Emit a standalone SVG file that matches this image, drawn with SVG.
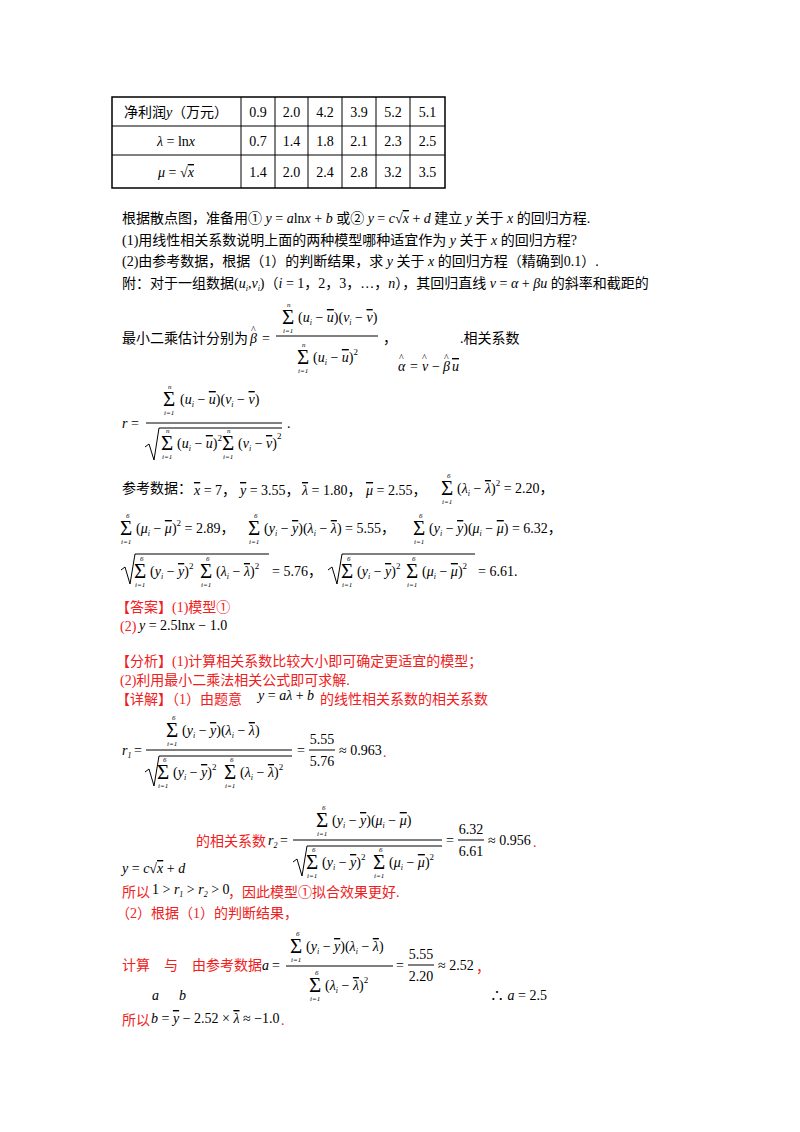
<svg xmlns="http://www.w3.org/2000/svg" width="800" height="1132" viewBox="0 0 800 1132">
<style>
text{font-family:"Liberation Serif","Noto Sans CJK SC",serif;font-size:14px;fill:#000}
.r{fill:#f02020}
.i{font-style:italic}
.S{font-size:21px}
.l{font-size:7px;font-style:italic}
.sub{font-size:8px;font-style:italic}
.ol{text-decoration:overline}
.c{text-anchor:middle}
.h{font-size:10px}
line,path{stroke:#000;stroke-width:1;fill:none}
</style>
<rect width="800" height="1132" fill="#fff"/>
<g id="table">
<rect x="112" y="97" width="333" height="91" fill="none" stroke="#000" stroke-width="1.5"/>
<path d="M241,97V188M275,97V188M308,97V188M342,97V188M376,97V188M410,97V188M112,126H445M112,155H445"/>
<text x="176" y="117" class="c">净利润<tspan class="i">y</tspan>（万元）</text>
<text x="176" y="146" class="c"><tspan class="i">λ</tspan> = ln<tspan class="i">x</tspan></text>
<text x="176" y="177" class="c"><tspan class="i">μ</tspan> = √<tspan class="i ol">x</tspan></text>
<text x="258" y="117" class="c">0.9</text><text x="291.5" y="117" class="c">2.0</text><text x="325" y="117" class="c">4.2</text><text x="359" y="117" class="c">3.9</text><text x="393" y="117" class="c">5.2</text><text x="427.5" y="117" class="c">5.1</text>
<text x="258" y="146" class="c">0.7</text><text x="291.5" y="146" class="c">1.4</text><text x="325" y="146" class="c">1.8</text><text x="359" y="146" class="c">2.1</text><text x="393" y="146" class="c">2.3</text><text x="427.5" y="146" class="c">2.5</text>
<text x="258" y="177" class="c">1.4</text><text x="291.5" y="177" class="c">2.0</text><text x="325" y="177" class="c">2.4</text><text x="359" y="177" class="c">2.8</text><text x="393" y="177" class="c">3.2</text><text x="427.5" y="177" class="c">3.5</text>
</g>
<g id="question">
<text x="122" y="223">根据散点图，准备用① <tspan class="i">y</tspan> = <tspan class="i">a</tspan>ln<tspan class="i">x</tspan> + <tspan class="i">b</tspan> 或② <tspan class="i">y</tspan> = <tspan class="i">c</tspan>√<tspan class="i ol">x</tspan> + <tspan class="i">d</tspan> 建立 <tspan class="i">y</tspan> 关于 <tspan class="i">x</tspan> 的回归方程.</text>
<text x="122" y="245">(1)用线性相关系数说明上面的两种模型哪种适宜作为 <tspan class="i">y</tspan> 关于 <tspan class="i">x</tspan> 的回归方程?</text>
<text x="122" y="266">(2)由参考数据，根据（1）的判断结果，求 <tspan class="i">y</tspan> 关于 <tspan class="i">x</tspan> 的回归方程（精确到0.1）.</text>
<text x="122" y="288">附：对于一组数据(<tspan class="i">u</tspan><tspan class="sub" dy="3">i</tspan><tspan dy="-3">,</tspan><tspan class="i">v</tspan><tspan class="sub" dy="3">i</tspan><tspan dy="-3">)（</tspan><tspan class="i">i</tspan> = 1，2，3，…，<tspan class="i">n</tspan>），其回归直线 <tspan class="i">v</tspan> = <tspan class="i">α</tspan> + <tspan class="i">βu</tspan> 的斜率和截距的</text>
<text x="122" y="343">最小二乘估计分别为</text>
<text x="250" y="343" class="i">β</text><text x="251" y="333" class="h">^</text><text x="262" y="343">=</text>
<line x1="276" y1="336" x2="378" y2="336"/>
<text x="282" y="324" class="S">Σ</text><text x="287" y="307" class="l">n</text><text x="283" y="333" class="l">i=1</text>
<text x="298" y="322">(<tspan class="i">u</tspan><tspan class="sub" dy="3">i</tspan><tspan dy="-3"> − </tspan><tspan class="i ol">u</tspan>)(<tspan class="i">v</tspan><tspan class="sub" dy="3">i</tspan><tspan dy="-3"> − </tspan><tspan class="i ol">v</tspan>)</text>
<text x="297" y="364" class="S">Σ</text><text x="302" y="347" class="l">n</text><text x="298" y="373" class="l">i=1</text>
<text x="313" y="362">(<tspan class="i">u</tspan><tspan class="sub" dy="3">i</tspan><tspan dy="-3"> − </tspan><tspan class="i ol">u</tspan>)<tspan font-size="9" dy="-7">2</tspan></text>
<text x="383" y="343">，</text>
<text x="398" y="371" class="i">α</text><text x="399" y="361" class="h">^</text>
<text x="410" y="371">=</text>
<text x="422" y="371" class="i">v</text><text x="422" y="361" class="h">^</text>
<text x="432" y="371">−</text>
<text x="443" y="371" class="i">β</text><text x="444" y="361" class="h">^</text>
<text x="452" y="371" class="i ol">u</text>
<text x="460" y="343">.相关系数</text>
<text x="122" y="428" class="i">r</text><text x="131" y="428">=</text>
<line x1="146" y1="423" x2="282" y2="423"/>
<text x="163" y="406" class="S">Σ</text><text x="168" y="389" class="l">n</text><text x="164" y="415" class="l">i=1</text>
<text x="180" y="404">(<tspan class="i">u</tspan><tspan class="sub" dy="3">i</tspan><tspan dy="-3"> − </tspan><tspan class="i ol">u</tspan>)(<tspan class="i">v</tspan><tspan class="sub" dy="3">i</tspan><tspan dy="-3"> − </tspan><tspan class="i ol">v</tspan>)</text>
<path d="M145,447 L149,444 L154,460 L159,428 H282"/>
<text x="161" y="450" class="S">Σ</text><text x="166" y="433" class="l">n</text><text x="162" y="459" class="l">i=1</text>
<text x="177" y="448">(<tspan class="i">u</tspan><tspan class="sub" dy="3">i</tspan><tspan dy="-3"> − </tspan><tspan class="i ol">u</tspan>)<tspan font-size="9" dy="-7">2</tspan></text>
<text x="222" y="450" class="S">Σ</text><text x="227" y="433" class="l">n</text><text x="223" y="459" class="l">i=1</text>
<text x="238" y="448">(<tspan class="i">v</tspan><tspan class="sub" dy="3">i</tspan><tspan dy="-3"> − </tspan><tspan class="i ol">v</tspan>)<tspan font-size="9" dy="-9">2</tspan></text>
<text x="287" y="428">.</text>
</g>
<g id="reference">
<text x="122" y="493">参考数据：</text>
<text x="194" y="495"><tspan class="i ol">x</tspan> = 7，</text>
<text x="240" y="495"><tspan class="i ol">y</tspan> = 3.55，</text>
<text x="302" y="495"><tspan class="i ol">λ</tspan> = 1.80，</text>
<text x="366" y="495"><tspan class="i ol">μ</tspan> = 2.55，</text>
<text x="441" y="495" class="S">Σ</text><text x="447" y="478" class="l">6</text><text x="442" y="504" class="l">i=1</text>
<text x="457" y="493">(<tspan class="i">λ</tspan><tspan class="sub" dy="3">i</tspan><tspan dy="-3"> − </tspan><tspan class="i ol">λ</tspan>)<tspan font-size="9" dy="-7">2</tspan><tspan dy="7"> = 2.20，</tspan></text>
<text x="120" y="535" class="S">Σ</text><text x="126" y="518" class="l">6</text><text x="121" y="544" class="l">i=1</text>
<text x="136" y="533">(<tspan class="i">μ</tspan><tspan class="sub" dy="3">i</tspan><tspan dy="-3"> − </tspan><tspan class="i ol">μ</tspan>)<tspan font-size="9" dy="-7">2</tspan><tspan dy="7"> = 2.89，</tspan></text>
<text x="248" y="535" class="S">Σ</text><text x="254" y="518" class="l">6</text><text x="249" y="544" class="l">i=1</text>
<text x="264" y="533">(<tspan class="i">y</tspan><tspan class="sub" dy="3">i</tspan><tspan dy="-3"> − </tspan><tspan class="i ol">y</tspan>)(<tspan class="i">λ</tspan><tspan class="sub" dy="3">i</tspan><tspan dy="-3"> − </tspan><tspan class="i ol">λ</tspan>) = 5.55，</text>
<text x="413" y="535" class="S">Σ</text><text x="419" y="518" class="l">6</text><text x="414" y="544" class="l">i=1</text>
<text x="429" y="533">(<tspan class="i">y</tspan><tspan class="sub" dy="3">i</tspan><tspan dy="-3"> − </tspan><tspan class="i ol">y</tspan>)(<tspan class="i">μ</tspan><tspan class="sub" dy="3">i</tspan><tspan dy="-3"> − </tspan><tspan class="i ol">μ</tspan>) = 6.32，</text>
<path d="M121,570 L125,567 L130,584 L135,554 H269"/>
<text x="134" y="578" class="S">Σ</text><text x="140" y="561" class="l">6</text><text x="135" y="587" class="l">i=1</text>
<text x="150" y="576">(<tspan class="i">y</tspan><tspan class="sub" dy="3">i</tspan><tspan dy="-3"> − </tspan><tspan class="i ol">y</tspan>)<tspan font-size="9" dy="-7">2</tspan></text>
<text x="200" y="578" class="S">Σ</text><text x="206" y="561" class="l">6</text><text x="201" y="587" class="l">i=1</text>
<text x="216" y="576">(<tspan class="i">λ</tspan><tspan class="sub" dy="3">i</tspan><tspan dy="-3"> − </tspan><tspan class="i ol">λ</tspan>)<tspan font-size="9" dy="-7">2</tspan></text>
<text x="272" y="576">= 5.76，</text>
<path d="M328,570 L332,567 L337,584 L342,554 H475"/>
<text x="341" y="578" class="S">Σ</text><text x="347" y="561" class="l">6</text><text x="342" y="587" class="l">i=1</text>
<text x="357" y="576">(<tspan class="i">y</tspan><tspan class="sub" dy="3">i</tspan><tspan dy="-3"> − </tspan><tspan class="i ol">y</tspan>)<tspan font-size="9" dy="-7">2</tspan></text>
<text x="406" y="578" class="S">Σ</text><text x="412" y="561" class="l">6</text><text x="407" y="587" class="l">i=1</text>
<text x="422" y="576">(<tspan class="i">μ</tspan><tspan class="sub" dy="3">i</tspan><tspan dy="-3"> − </tspan><tspan class="i ol">μ</tspan>)<tspan font-size="9" dy="-7">2</tspan></text>
<text x="478" y="576">= 6.61.</text>
</g>
<g id="answer">
<text x="116" y="612" class="r">【答案】(1)模型①</text>
<text x="120" y="631" class="r">(2)</text><text x="139" y="630"><tspan class="i">y</tspan> = 2.5ln<tspan class="i">x</tspan> − 1.0</text>
<text x="116" y="666" class="r">【分析】(1)计算相关系数比较大小即可确定更适宜的模型；</text>
<text x="120" y="685" class="r">(2)利用最小二乘法相关公式即可求解.</text>
<text x="116" y="704" class="r">【详解】（1）由题意</text>
<text x="258" y="700"><tspan class="i">y</tspan> = <tspan class="i">aλ</tspan> + <tspan class="i">b</tspan></text>
<text x="320" y="704" class="r">的线性相关系数的相关系数</text>
<text x="122" y="755" class="i">r<tspan class="sub" dy="3" font-style="normal">1</tspan></text><text x="134" y="755">=</text>
<line x1="146" y1="750" x2="292" y2="750"/>
<text x="166" y="737" class="S">Σ</text><text x="172" y="720" class="l">6</text><text x="167" y="746" class="l">i=1</text>
<text x="182" y="735">(<tspan class="i">y</tspan><tspan class="sub" dy="3">i</tspan><tspan dy="-3"> − </tspan><tspan class="i ol">y</tspan>)(<tspan class="i">λ</tspan><tspan class="sub" dy="3">i</tspan><tspan dy="-3"> − </tspan><tspan class="i ol">λ</tspan>)</text>
<path d="M145,772 L149,769 L154,786 L159,756 H292"/>
<text x="157" y="779" class="S">Σ</text><text x="163" y="762" class="l">6</text><text x="158" y="788" class="l">i=1</text>
<text x="173" y="777">(<tspan class="i">y</tspan><tspan class="sub" dy="3">i</tspan><tspan dy="-3"> − </tspan><tspan class="i ol">y</tspan>)<tspan font-size="9" dy="-7">2</tspan></text>
<text x="224" y="779" class="S">Σ</text><text x="230" y="762" class="l">6</text><text x="225" y="788" class="l">i=1</text>
<text x="240" y="777">(<tspan class="i">λ</tspan><tspan class="sub" dy="3">i</tspan><tspan dy="-3"> − </tspan><tspan class="i ol">λ</tspan>)<tspan font-size="9" dy="-7">2</tspan></text>
<text x="297" y="755">=</text>
<text x="322" y="744" class="c">5.55</text><line x1="309" y1="750" x2="335" y2="750"/><text x="322" y="766" class="c">5.76</text>
<text x="339" y="755">≈ 0.963</text><text x="383" y="757" class="r">.</text>
<text x="196" y="846" class="r">的相关系数</text>
<text x="268" y="845" class="i">r<tspan class="sub" dy="3" font-style="normal">2</tspan></text><text x="280" y="845">=</text>
<line x1="293" y1="840" x2="442" y2="840"/>
<text x="316" y="827" class="S">Σ</text><text x="322" y="810" class="l">6</text><text x="317" y="836" class="l">i=1</text>
<text x="332" y="825">(<tspan class="i">y</tspan><tspan class="sub" dy="3">i</tspan><tspan dy="-3"> − </tspan><tspan class="i ol">y</tspan>)(<tspan class="i">μ</tspan><tspan class="sub" dy="3">i</tspan><tspan dy="-3"> − </tspan><tspan class="i ol">μ</tspan>)</text>
<path d="M293,862 L297,859 L302,876 L307,846 H442"/>
<text x="306" y="869" class="S">Σ</text><text x="312" y="852" class="l">6</text><text x="307" y="878" class="l">i=1</text>
<text x="322" y="867">(<tspan class="i">y</tspan><tspan class="sub" dy="3">i</tspan><tspan dy="-3"> − </tspan><tspan class="i ol">y</tspan>)<tspan font-size="9" dy="-7">2</tspan></text>
<text x="373" y="869" class="S">Σ</text><text x="379" y="852" class="l">6</text><text x="374" y="878" class="l">i=1</text>
<text x="389" y="867">(<tspan class="i">μ</tspan><tspan class="sub" dy="3">i</tspan><tspan dy="-3"> − </tspan><tspan class="i ol">μ</tspan>)<tspan font-size="9" dy="-7">2</tspan></text>
<text x="446" y="845">=</text>
<text x="471" y="834" class="c">6.32</text><line x1="458" y1="840" x2="484" y2="840"/><text x="471" y="856" class="c">6.61</text>
<text x="488" y="845">≈ 0.956</text><text x="533" y="847" class="r">.</text>
<text x="122" y="873"><tspan class="i">y</tspan> = <tspan class="i">c</tspan>√<tspan class="i ol">x</tspan> + <tspan class="i">d</tspan></text>
<text x="122" y="897" class="r">所以</text>
<text x="152" y="894">1 &gt; <tspan class="i">r</tspan><tspan class="sub" dy="3" font-style="normal">1</tspan><tspan dy="-3"> &gt; </tspan><tspan class="i">r</tspan><tspan class="sub" dy="3" font-style="normal">2</tspan><tspan dy="-3"> &gt; 0</tspan></text>
<text x="228" y="897" class="r">，因此模型①拟合效果更好.</text>
<text x="116" y="918" class="r">（2）根据（1）的判断结果，</text>
<text x="122" y="970" class="r">计算　与　由参考数据</text>
<text x="262" y="970" class="i">a</text><text x="272" y="970">=</text>
<line x1="286" y1="966" x2="393" y2="966"/>
<text x="290" y="953" class="S">Σ</text><text x="296" y="936" class="l">6</text><text x="291" y="962" class="l">i=1</text>
<text x="306" y="951">(<tspan class="i">y</tspan><tspan class="sub" dy="3">i</tspan><tspan dy="-3"> − </tspan><tspan class="i ol">y</tspan>)(<tspan class="i">λ</tspan><tspan class="sub" dy="3">i</tspan><tspan dy="-3"> − </tspan><tspan class="i ol">λ</tspan>)</text>
<text x="309" y="992" class="S">Σ</text><text x="315" y="975" class="l">6</text><text x="310" y="1001" class="l">i=1</text>
<text x="325" y="990">(<tspan class="i">λ</tspan><tspan class="sub" dy="3">i</tspan><tspan dy="-3"> − </tspan><tspan class="i ol">λ</tspan>)<tspan font-size="9" dy="-7">2</tspan></text>
<text x="396" y="970">=</text>
<text x="421" y="959" class="c">5.55</text><line x1="408" y1="965" x2="434" y2="965"/><text x="421" y="981" class="c">2.20</text>
<text x="438" y="970">≈ 2.52</text><text x="476" y="972" class="r">，</text>
<text x="152" y="1000" class="i">a</text><text x="179" y="1000" class="i">b</text>
<text x="490" y="1000">∴ <tspan class="i">a</tspan> = 2.5</text>
<text x="122" y="1025" class="r">所以</text>
<text x="151" y="1023"><tspan class="i">b</tspan> = <tspan class="i ol">y</tspan> − 2.52 × <tspan class="i ol">λ</tspan> ≈ −1.0</text>
<text x="281" y="1025" class="r">.</text>
</g>
</svg>
